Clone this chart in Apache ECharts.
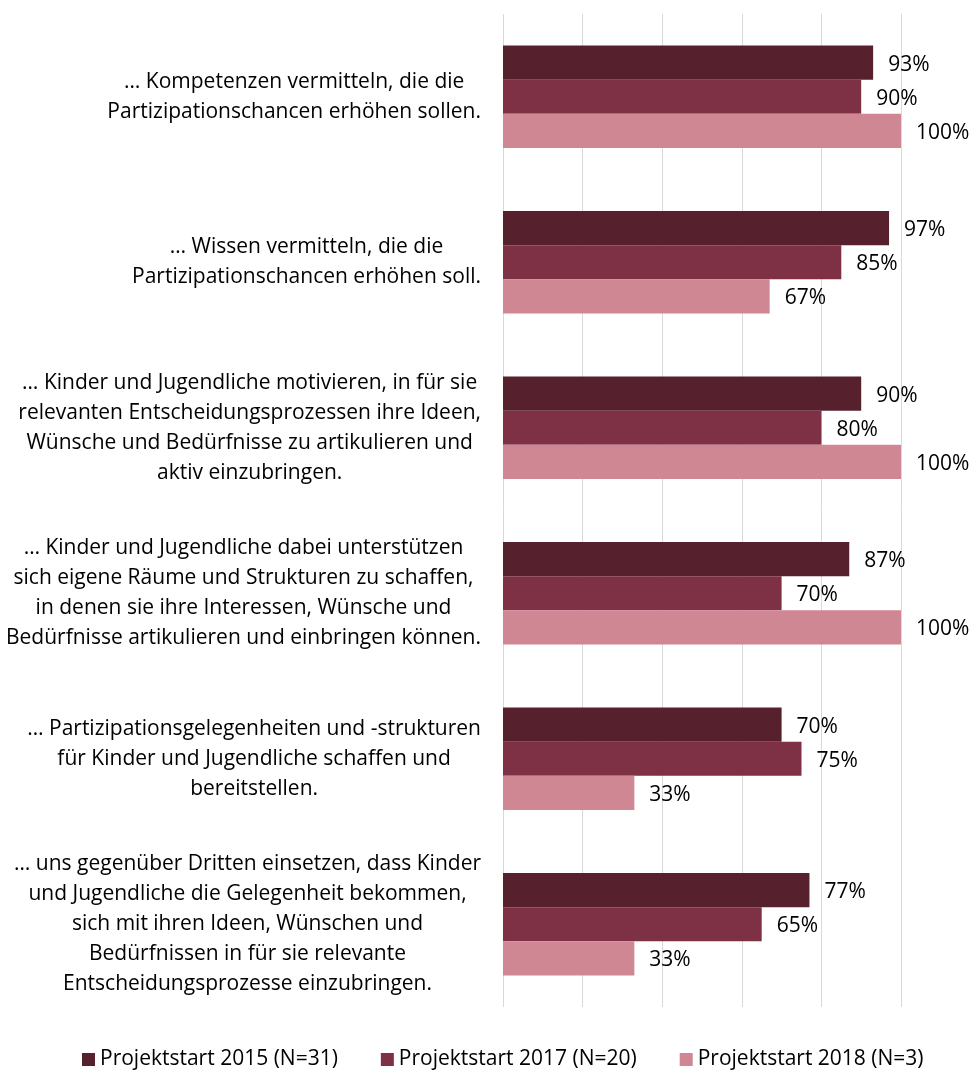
<!DOCTYPE html>
<html>
<head>
<meta charset="utf-8">
<script src="https://cdn.jsdelivr.net/npm/echarts@6/dist/echarts.min.js"></script>
<style>
  html, body { margin: 0; padding: 0; background: #fff; }
  #chart { width: 971px; height: 1070px; }
</style>
</head>
<body>
<div id="chart"></div>
<script>
// Statements (top to bottom)
const categories = [
  '… Kompetenzen vermitteln, die die\nPartizipationschancen erhöhen sollen.',
  '… Wissen vermitteln, die die\nPartizipationschancen erhöhen soll.',
  '… Kinder und Jugendliche motivieren, in für sie\nrelevanten Entscheidungsprozessen ihre Ideen,\nWünsche und Bedürfnisse zu artikulieren und\naktiv einzubringen.',
  '… Kinder und Jugendliche dabei unterstützen\nsich eigene Räume und Strukturen zu schaffen,\nin denen sie ihre Interessen, Wünsche und\nBedürfnisse artikulieren und einbringen können.',
  '… Partizipationsgelegenheiten und -strukturen\nfür Kinder und Jugendliche schaffen und\nbereitstellen.',
  '… uns gegenüber Dritten einsetzen, dass Kinder\nund Jugendliche die Gelegenheit bekommen,\nsich mit ihren Ideen, Wünschen und\nBedürfnissen in für sie relevante\nEntscheidungsprozesse einzubringen.'
];

const seriesNames = [
  'Projektstart 2015 (N=31)',
  'Projektstart 2017 (N=20)',
  'Projektstart 2018 (N=3)'
];

// Shares in percent
const start2015 = [93, 97, 90, 87, 70, 77];
const start2017 = [90, 85, 80, 70, 75, 65];
const start2018 = [100, 67, 100, 100, 33, 33];

const colors = ['#56202d', '#7e3144', '#d08794'];
const FONT = 'Open Sans';
const FONT_SIZE = 21;

const chart = echarts.init(document.getElementById('chart'));

function barSeries(name, data, color) {
  return {
    name: name,
    type: 'bar',
    data: data,
    barGap: '0%',
    barCategoryGap: '38%',
    itemStyle: { color: color },
    label: {
      show: true,
      position: 'right',
      distance: 15,
      offset: [0, 2],
      formatter: '{c}%',
      color: '#000',
      fontFamily: FONT,
      fontSize: FONT_SIZE
    },
    emphasis: { disabled: true }
  };
}

chart.setOption({
  animation: false,
  textStyle: { fontFamily: FONT },
  grid: { left: 503, right: 70, top: 14, bottom: 63, containLabel: false },
  xAxis: {
    type: 'value',
    min: 0,
    max: 100,
    interval: 20,
    axisLabel: { show: false },
    axisLine: { show: false },
    axisTick: { show: false },
    splitLine: { show: true, lineStyle: { color: '#d9d9d9', width: 1 } }
  },
  yAxis: {
    type: 'category',
    data: categories,
    inverse: true,
    axisLine: { show: false },
    axisTick: { show: false },
    axisLabel: {
      margin: 22,
      formatter: function (v) {
        return v.split('\n').map(function (l) { return '{c|' + l + '}'; }).join('\n');
      },
      rich: {
        c: {
          align: 'center',
          color: '#000',
          fontFamily: FONT,
          fontSize: FONT_SIZE,
          lineHeight: 30
        }
      }
    }
  },
  legend: {
    top: 1044,
    left: 77,
    itemWidth: 13,
    itemHeight: 13,
    itemGap: 43,
    icon: 'rect',
    selectedMode: false,
    textStyle: { color: '#000', fontFamily: FONT, fontSize: FONT_SIZE },
    data: seriesNames
  },
  series: [
    barSeries(seriesNames[0], start2015, colors[0]),
    barSeries(seriesNames[1], start2017, colors[1]),
    barSeries(seriesNames[2], start2018, colors[2])
  ]
});
</script>
</body>
</html>
